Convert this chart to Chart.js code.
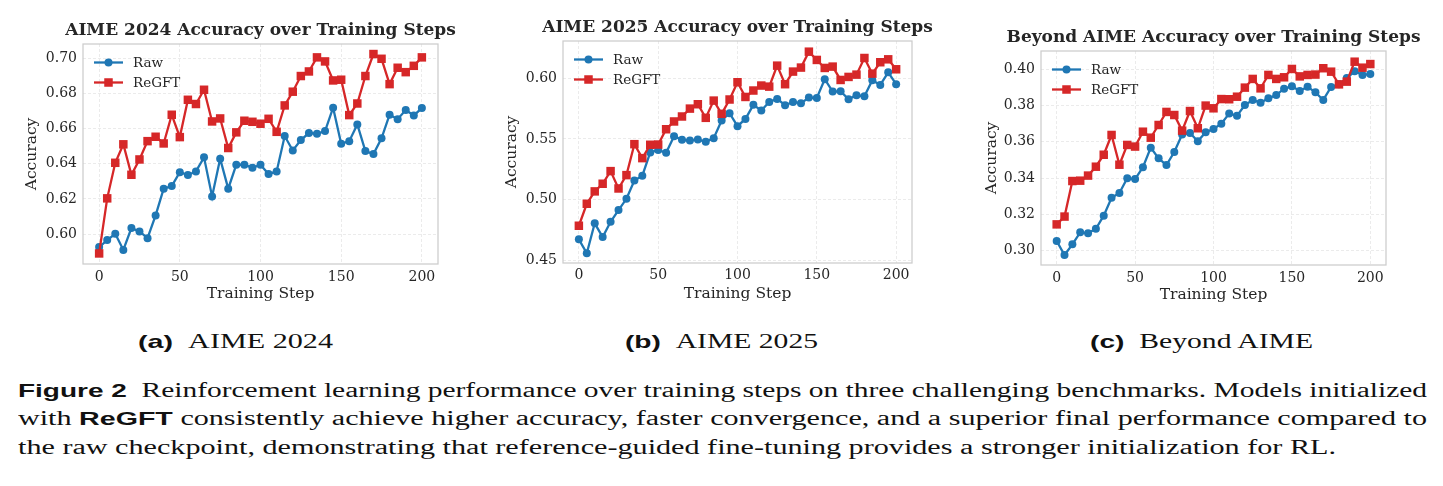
<!DOCTYPE html>
<html>
<head>
<meta charset="utf-8">
<script src="https://cdn.jsdelivr.net/npm/chart.js@4.4.1/dist/chart.umd.min.js"></script>
<style>
  html, body { margin: 0; padding: 0; background: #fff; }
  #fig { position: relative; width: 1443px; height: 486px; overflow: hidden; background: #fff; }
  #fig canvas { position: absolute; top: 0; }
  .line { position: absolute; white-space: nowrap; font-family: "Liberation Serif", serif; font-size: 20px; line-height: 28px; color: #111; transform-origin: 0 0; }
  .line b, .sub b { font-family: "Liberation Sans", sans-serif; font-weight: bold; font-size: 19px; }
  .sub { position: absolute; white-space: nowrap; font-family: "Liberation Serif", serif; font-size: 20px; line-height: 28px; color: #111; transform-origin: 0 0; }
</style>
</head>
<body>
<div id="fig">
  <canvas id="c1" width="480" height="310" style="left:0px"></canvas>
  <canvas id="c2" width="480" height="309" style="left:480px"></canvas>
  <canvas id="c3" width="480" height="311" style="left:960px"></canvas>

  <div class="sub" data-w="195" style="left:138px; top:327px"><b>(a)</b>&nbsp;&nbsp;AIME 2024</div>
  <div class="sub" data-w="193" style="left:625px; top:327px"><b>(b)</b>&nbsp;&nbsp;AIME 2025</div>
  <div class="sub" data-w="223" style="left:1090px; top:327px"><b>(c)</b>&nbsp;&nbsp;Beyond AIME</div>

  <div class="line" data-w="1409" style="left:18px; top:376px"><b>Figure 2</b>&nbsp;&nbsp;Reinforcement learning performance over training steps on three challenging benchmarks. Models initialized</div>
  <div class="line" data-w="1409" style="left:18px; top:404px">with <b>ReGFT</b> consistently achieve higher accuracy, faster convergence, and a superior final performance compared to</div>
  <div class="line" data-w="1318" style="left:18px; top:433px">the raw checkpoint, demonstrating that reference-guided fine-tuning provides a stronger initialization for RL.</div>
</div>
<script>
const steps = [0, 5, 10, 15, 20, 25, 30, 35, 40, 45, 50, 55, 60, 65, 70, 75, 80, 85, 90, 95, 100,
  105, 110, 115, 120, 125, 130, 135, 140, 145, 150, 155, 160, 165, 170, 175, 180, 185, 190, 195, 200];
const xTicks = [0, 50, 100, 150, 200];

// AIME 2024
const aime24Raw = [0.5926, 0.5966, 0.6002, 0.5910, 0.6034, 0.6015, 0.5977, 0.6106, 0.6258, 0.6273, 0.6352,
  0.6335, 0.6356, 0.6436, 0.6214, 0.6428, 0.6258, 0.6394, 0.6394, 0.6377, 0.6394,
  0.6341, 0.6356, 0.6557, 0.6475, 0.6534, 0.6574, 0.6570, 0.6585, 0.6718, 0.6513,
  0.6528, 0.6623, 0.6472, 0.6455, 0.6544, 0.6678, 0.6653, 0.6705, 0.6674, 0.6716];
const aime24ReGFT = [0.5890, 0.6203, 0.6405, 0.6510, 0.6337, 0.6424, 0.6528, 0.6553, 0.6515, 0.6678, 0.6551,
  0.6763, 0.6739, 0.6820, 0.6640, 0.6657, 0.6489, 0.6578, 0.6644, 0.6638, 0.6627,
  0.6655, 0.6581, 0.6731, 0.6809, 0.6898, 0.6924, 0.7004, 0.6981, 0.6873, 0.6877,
  0.6676, 0.6742, 0.6898, 0.7023, 0.6996, 0.6852, 0.6945, 0.6920, 0.6956, 0.7004];
const aime24Ticks = [0.60, 0.62, 0.64, 0.66, 0.68, 0.70];

// AIME 2025
const aime25Raw = [0.4673, 0.4558, 0.4805, 0.4692, 0.4818, 0.4914, 0.5007, 0.5158, 0.5197, 0.5389, 0.5410,
  0.5386, 0.5523, 0.5493, 0.5487, 0.5495, 0.5476, 0.5506, 0.5652, 0.5712, 0.5605,
  0.5665, 0.5781, 0.5734, 0.5805, 0.5830, 0.5778, 0.5805, 0.5794, 0.5841, 0.5838,
  0.5992, 0.5890, 0.5893, 0.5827, 0.5860, 0.5852, 0.5984, 0.5945, 0.6049, 0.5951];
const aime25ReGFT = [0.4785, 0.4966, 0.5068, 0.5131, 0.5235, 0.5092, 0.5202, 0.5457, 0.5342, 0.5452, 0.5454,
  0.5580, 0.5644, 0.5685, 0.5750, 0.5786, 0.5674, 0.5816, 0.5707, 0.5825, 0.5967,
  0.5846, 0.5899, 0.5940, 0.5931, 0.6104, 0.5951, 0.6055, 0.6088, 0.6219, 0.6151,
  0.6085, 0.6096, 0.5986, 0.6011, 0.6030, 0.6167, 0.6038, 0.6132, 0.6156, 0.6074];
const aime25Ticks = [0.45, 0.50, 0.55, 0.60];

// Beyond AIME
const beyondRaw = [0.3053, 0.2976, 0.3035, 0.3101, 0.3096, 0.3121, 0.3193, 0.3292, 0.3318, 0.3399, 0.3395,
  0.3460, 0.3568, 0.3509, 0.3472, 0.3544, 0.3640, 0.3649, 0.3603, 0.3653, 0.3671,
  0.3700, 0.3756, 0.3744, 0.3803, 0.3831, 0.3816, 0.3840, 0.3858, 0.3893, 0.3906,
  0.3881, 0.3904, 0.3873, 0.3831, 0.3903, 0.3917, 0.3952, 0.3989, 0.3969, 0.3974];
const beyondReGFT = [0.3145, 0.3188, 0.3384, 0.3386, 0.3414, 0.3463, 0.3529, 0.3638, 0.3474, 0.3583, 0.3574,
  0.3656, 0.3623, 0.3693, 0.3765, 0.3748, 0.3662, 0.3770, 0.3675, 0.3800, 0.3785,
  0.3836, 0.3835, 0.3849, 0.3899, 0.3947, 0.3895, 0.3969, 0.3947, 0.3956, 0.4002,
  0.3961, 0.3969, 0.3971, 0.4006, 0.3987, 0.3917, 0.3932, 0.4042, 0.4009, 0.4029];
const beyondTicks = [0.30, 0.32, 0.34, 0.36, 0.38, 0.40];

const BLUE = '#1f77b4';
const RED = '#d62728';
const TXT = '#262626';
const SERIF = "'DejaVu Serif', serif";

// frame round the plot area (matplotlib spines)
const framePlugin = {
  id: 'frame',
  beforeDatasetsDraw(chart) {
    const { ctx, chartArea: a } = chart;
    ctx.save();
    ctx.strokeStyle = '#cccccc';
    ctx.lineWidth = 1.25;
    ctx.strokeRect(a.left, a.top, a.right - a.left, a.bottom - a.top);
    ctx.restore();
  }
};

// title centred over the axes, not the whole canvas
const axTitle = {
  id: 'axTitle',
  afterDraw(chart, args, opts) {
    const { ctx, chartArea: a } = chart;
    ctx.save();
    ctx.fillStyle = TXT;
    ctx.font = "bold 17px " + SERIF;
    ctx.textAlign = 'center';
    ctx.textBaseline = 'middle';
    ctx.fillText(opts.text, (a.left + a.right) / 2, a.top - 13);
    ctx.restore();
  }
};

// legend drawn inside the axes, upper left
const innerLegend = {
  id: 'innerLegend',
  afterDraw(chart) {
    const { ctx, chartArea: a } = chart;
    ctx.save();
    chart.data.datasets.slice().sort((p, q) => p.legendRow - q.legendRow).forEach((ds, i) => {
      const y = a.top + 18.5 + i * 20;
      const x0 = a.left + 11, x1 = a.left + 40, xm = (x0 + x1) / 2;
      ctx.strokeStyle = ds.borderColor;
      ctx.lineWidth = 2.3;
      ctx.beginPath(); ctx.moveTo(x0, y); ctx.lineTo(x1, y); ctx.stroke();
      ctx.fillStyle = ds.borderColor;
      if (ds.pointStyle === 'rect') {
        ctx.fillRect(xm - 4.25, y - 4.25, 8.5, 8.5);
      } else {
        ctx.beginPath(); ctx.arc(xm, y, 4, 0, Math.PI * 2); ctx.fill();
      }
      ctx.fillStyle = TXT;
      ctx.font = "13.5px " + SERIF;
      ctx.textBaseline = 'middle';
      ctx.fillText(ds.label, a.left + 50, y + 1);
    });
    ctx.restore();
  }
};

function makeChart(id, title, raw, regft, yTicks, yMin, yMax, yW, padRight, top, xTitlePad, xTickPad) {
  return new Chart(document.getElementById(id), {
    type: 'line',
    data: {
      datasets: [
        {
          label: 'Raw', legendRow: 0, order: 2,
          data: steps.map((s, i) => ({ x: s, y: raw[i] })),
          borderColor: BLUE, backgroundColor: BLUE, borderWidth: 2.3,
          pointStyle: 'circle', pointRadius: 4, pointBorderWidth: 0, pointBackgroundColor: BLUE
        },
        {
          label: 'ReGFT', legendRow: 1, order: 1,
          data: steps.map((s, i) => ({ x: s, y: regft[i] })),
          borderColor: RED, backgroundColor: RED, borderWidth: 2.3,
          pointStyle: 'rect', pointRadius: 6, pointBorderWidth: 0, pointBackgroundColor: RED
        }
      ]
    },
    options: {
      responsive: false,
      animation: false,
      devicePixelRatio: 1,
      layout: { padding: { left: 0, right: padRight, top: top, bottom: 0 } },
      plugins: {
        legend: { display: false },
        tooltip: { enabled: false },
        title: { display: false },
        axTitle: { text: title }
      },
      scales: {
        x: {
          type: 'linear', min: -10, max: 210,
          afterBuildTicks: s => { s.ticks = xTicks.map(v => ({ value: v })); },
          afterFit: s => { s.height = 46; },
          grid: { color: '#e6e6e6', lineWidth: 0.8, drawTicks: false },
          border: { display: false, dash: [3, 2] },
          ticks: { color: TXT, padding: xTickPad, font: { family: SERIF, size: 14 }, maxRotation: 0 },
          title: { display: true, text: 'Training Step', color: TXT,
            font: { family: SERIF, size: 15.5, lineHeight: '18px' }, padding: { top: 0, bottom: xTitlePad } }
        },
        y: {
          type: 'linear', min: yMin, max: yMax,
          afterBuildTicks: s => { s.ticks = yTicks.map(v => ({ value: v })); },
          afterFit: s => { s.width = yW; },
          grid: { color: '#e6e6e6', lineWidth: 0.8, drawTicks: false },
          border: { display: false, dash: [3, 2] },
          ticks: { color: TXT, padding: 6, font: { family: SERIF, size: 14 }, callback: v => v.toFixed(2) },
          title: { display: true, text: 'Accuracy', color: TXT,
            font: { family: SERIF, size: 15.5, lineHeight: '18px' }, padding: { top: 23, bottom: 0 } }
        }
      }
    },
    plugins: [framePlugin, axTitle, innerLegend]
  });
}

makeChart('c1', 'AIME 2024 Accuracy over Training Steps', aime24Raw, aime24ReGFT, aime24Ticks, 0.583, 0.708, 83, 42, 44, 7, 5);
makeChart('c2', 'AIME 2025 Accuracy over Training Steps', aime25Raw, aime25ReGFT, aime25Ticks, 0.4478, 0.6307, 83, 48, 41, 6, 4);
makeChart('c3', 'Beyond AIME Accuracy over Training Steps', beyondRaw, beyondReGFT, beyondTicks, 0.2921, 0.4101, 81, 54, 51, 7, 5);

// stretch caption lines to the widths seen in the figure
document.querySelectorAll('[data-w]').forEach(el => {
  el.style.display = 'inline-block';
  const w = el.getBoundingClientRect().width;
  el.style.transform = 'scaleX(' + (Number(el.dataset.w) / w) + ')';
});
</script>
</body>
</html>
